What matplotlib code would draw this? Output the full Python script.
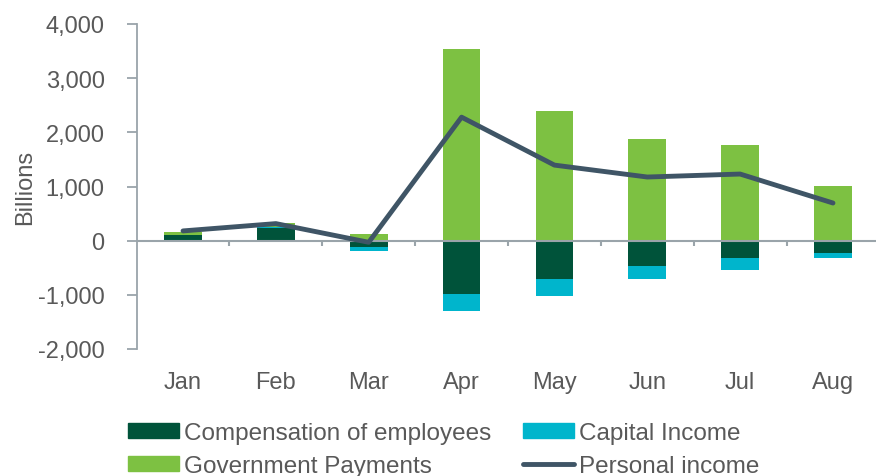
import matplotlib
matplotlib.use("Agg")
import matplotlib.pyplot as plt
import numpy as np
from matplotlib.patches import Patch
from matplotlib.lines import Line2D

plt.rcParams['font.family'] = ['Liberation Sans', 'DejaVu Sans']

months = ["Jan", "Feb", "Mar", "Apr", "May", "Jun", "Jul", "Aug"]
compensation = [110, 235, -110, -980, -705, -465, -325, -225]
capital = [0, 25, -75, -310, -315, -245, -210, -100]
government = [50, 60, 130, 3535, 2390, 1875, 1765, 1010]
personal_income = [180, 315, -30, 2280, 1395, 1175, 1230, 695]

c_comp = "#00533A"
c_cap = "#00B5CC"
c_gov = "#7DC142"
c_line = "#3F5566"
c_text = "#595959"
c_axis = "#9AA4AA"

FS = 17
LFS = 17.5

fig = plt.figure(figsize=(8.76, 4.77), dpi=100)
ax = fig.add_axes([136.6/876, 1-350/477, (879.4-136.6)/876, (350-25)/477])

x = np.arange(len(months))
w = 0.405
comp = np.array(compensation, float)
cap = np.array(capital, float)
gov = np.array(government, float)

pos_base = np.zeros(len(x))
neg_base = np.zeros(len(x))

def stack(vals, color):
    global pos_base, neg_base
    bottoms = np.where(vals >= 0, pos_base, neg_base)
    ax.bar(x, vals, w, bottom=bottoms, color=color, edgecolor='none', zorder=2)
    pos_base = pos_base + np.where(vals >= 0, vals, 0)
    neg_base = neg_base + np.where(vals < 0, vals, 0)

stack(comp, c_comp)
stack(cap, c_cap)
stack(gov, c_gov)

ax.axhline(0, color=c_axis, lw=1.5, zorder=3)
ax.vlines(x[:-1] + 0.5, 0, -100, color=c_axis, lw=1.5, zorder=3)
ax.plot(x, personal_income, color=c_line, lw=3.5, zorder=4, solid_capstyle='round')

ax.set_xlim(-0.5, len(x) - 0.5)
ax.set_ylim(-2000, 4000)
ax.set_yticks(np.arange(-2000, 4001, 1000))
ax.set_yticklabels([f"{v:,}" for v in range(-2000, 4001, 1000)])
ax.set_xticks(x)
ax.set_xticklabels(months)
ax.tick_params(axis='both', labelsize=FS, colors=c_text)
ax.tick_params(axis='x', length=0, pad=16)
ax.tick_params(axis='y', length=7, width=1.3, color=c_axis, pad=16)
for s in ax.spines.values():
    s.set_visible(False)
ax.spines['left'].set_visible(True)
ax.spines['left'].set_color(c_axis)
ax.spines['left'].set_linewidth(1.3)
ax.set_ylabel("Billions", fontsize=FS, color=c_text, labelpad=1)

handles = [Patch(color=c_comp), Patch(color=c_cap), Patch(color=c_gov),
           Line2D([0], [0], color=c_line, lw=3.5, solid_capstyle='round')]
labels = ["Compensation of employees", "Capital Income", "Government Payments", "Personal income"]
order = [0, 2, 1, 3]
leg = fig.legend([handles[i] for i in order], [labels[i] for i in order], ncol=2,
                 loc='upper left', bbox_to_anchor=(128/876, 1-423/477), frameon=False,
                 fontsize=LFS, handlelength=2.1, handleheight=0.55, handletextpad=0.2,
                 columnspacing=1.3, labelspacing=0.46, borderaxespad=0, borderpad=0)
for t in leg.get_texts():
    t.set_color(c_text)

fig.savefig("out.png", dpi=100)
